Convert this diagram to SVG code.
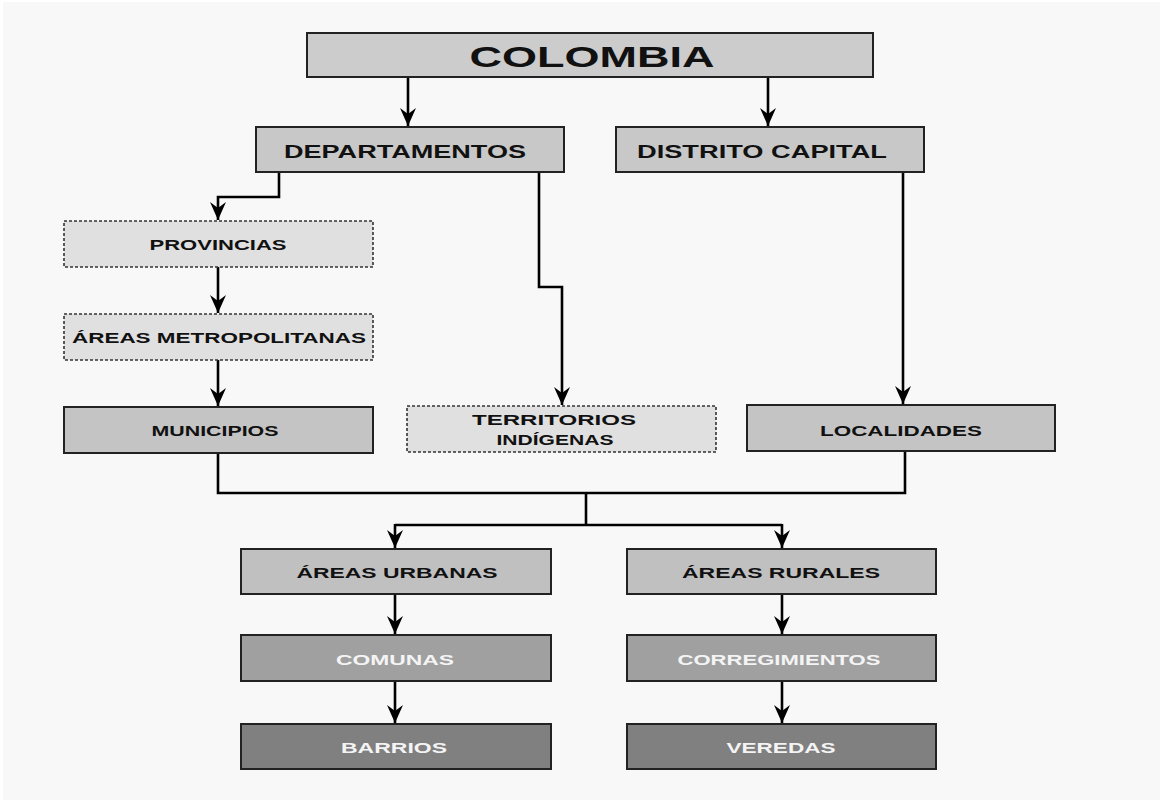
<svg xmlns="http://www.w3.org/2000/svg" width="1163" height="804" viewBox="0 0 1163 804">
<style>
.box{stroke:#222;stroke-width:2}
.dash{stroke:#333;stroke-width:1.6;stroke-dasharray:3 2;fill:#e0e0e0}
.t{font-family:"Liberation Sans",Arial,sans-serif;font-weight:bold;font-size:15px;text-anchor:middle;fill:#111}
.w{fill:#f4f4f4}
.c{fill:none;stroke:#000;stroke-width:2.6}
</style>
<defs>
<marker id="ah" markerUnits="userSpaceOnUse" markerWidth="20" markerHeight="18" refX="18" refY="8" orient="auto">
<path d="M0,0 L18,8 L0,16 L6,8 z" fill="#000"/>
</marker>
</defs>
<rect x="0" y="0" width="1163" height="804" fill="#ffffff"/>
<rect x="3" y="2" width="1157" height="798" fill="#f8f8f8"/>

<g id="connectors">
<path class="c" d="M408,77 V126" marker-end="url(#ah)"/>
<path class="c" d="M768,77 V126" marker-end="url(#ah)"/>
<path class="c" d="M279,172 V197 H218 V220" marker-end="url(#ah)"/>
<path class="c" d="M218,267 V313" marker-end="url(#ah)"/>
<path class="c" d="M218,360 V406" marker-end="url(#ah)"/>
<path class="c" d="M539,172 V287 H562 V405" marker-end="url(#ah)"/>
<path class="c" d="M903,172 V404" marker-end="url(#ah)"/>
<path class="c" d="M218,453 V493 H905 V451"/>
<path class="c" d="M586,493 V525"/>
<path class="c" d="M395,525 H782"/>
<path class="c" d="M395,524 V548" marker-end="url(#ah)"/>
<path class="c" d="M782,524 V548" marker-end="url(#ah)"/>
<path class="c" d="M395,594 V634" marker-end="url(#ah)"/>
<path class="c" d="M782,594 V634" marker-end="url(#ah)"/>
<path class="c" d="M395,681 V723" marker-end="url(#ah)"/>
<path class="c" d="M782,681 V723" marker-end="url(#ah)"/>
</g>

<g id="colombia">
<rect class="box" x="307" y="33" width="566" height="44" fill="#cccccc"/>
<text class="t" x="592" y="67" style="font-size:30px" textLength="245" lengthAdjust="spacingAndGlyphs">COLOMBIA</text>
</g>
<g id="departamentos">
<rect class="box" x="256" y="127" width="308" height="45" fill="#c8c8c8"/>
<text class="t" x="405" y="158" style="font-size:18px" textLength="242" lengthAdjust="spacingAndGlyphs">DEPARTAMENTOS</text>
</g>
<g id="distrito">
<rect class="box" x="616" y="127" width="308" height="45" fill="#c8c8c8"/>
<text class="t" x="762" y="158" style="font-size:18px" textLength="250" lengthAdjust="spacingAndGlyphs">DISTRITO CAPITAL</text>
</g>
<g id="provincias">
<rect class="dash" x="64" y="221" width="309" height="46"/>
<text class="t" x="218" y="250" textLength="137" lengthAdjust="spacingAndGlyphs">PROVINCIAS</text>
</g>
<g id="metropolitanas">
<rect class="dash" x="64" y="314" width="309" height="46"/>
<text class="t" x="219" y="343" textLength="294" lengthAdjust="spacingAndGlyphs">ÁREAS METROPOLITANAS</text>
</g>
<g id="municipios">
<rect class="box" x="64" y="407" width="309" height="46" fill="#c4c4c4"/>
<text class="t" x="215" y="436" textLength="127" lengthAdjust="spacingAndGlyphs">MUNICIPIOS</text>
</g>
<g id="territorios">
<rect class="dash" x="407" y="406" width="309" height="46"/>
<text class="t" x="554" y="425" textLength="164" lengthAdjust="spacingAndGlyphs">TERRITORIOS</text>
<text class="t" x="555" y="445" textLength="117" lengthAdjust="spacingAndGlyphs">INDÍGENAS</text>
</g>
<g id="localidades">
<rect class="box" x="747" y="405" width="308" height="46" fill="#c4c4c4"/>
<text class="t" x="901" y="436" textLength="162" lengthAdjust="spacingAndGlyphs">LOCALIDADES</text>
</g>
<g id="urbanas">
<rect class="box" x="241" y="549" width="310" height="45" fill="#c0c0c0"/>
<text class="t" x="397" y="578" textLength="201" lengthAdjust="spacingAndGlyphs">ÁREAS URBANAS</text>
</g>
<g id="rurales">
<rect class="box" x="627" y="549" width="309" height="45" fill="#c0c0c0"/>
<text class="t" x="781" y="578" textLength="198" lengthAdjust="spacingAndGlyphs">ÁREAS RURALES</text>
</g>
<g id="comunas">
<rect class="box" x="241" y="635" width="310" height="46" fill="#a0a0a0"/>
<text class="t w" x="395" y="665" textLength="118" lengthAdjust="spacingAndGlyphs">COMUNAS</text>
</g>
<g id="corregimientos">
<rect class="box" x="627" y="635" width="309" height="46" fill="#a0a0a0"/>
<text class="t w" x="779" y="665" textLength="203" lengthAdjust="spacingAndGlyphs">CORREGIMIENTOS</text>
</g>
<g id="barrios">
<rect class="box" x="241" y="724" width="310" height="45" fill="#808080"/>
<text class="t w" x="394" y="753" textLength="106" lengthAdjust="spacingAndGlyphs">BARRIOS</text>
</g>
<g id="veredas">
<rect class="box" x="627" y="724" width="309" height="45" fill="#808080"/>
<text class="t w" x="781" y="753" textLength="109" lengthAdjust="spacingAndGlyphs">VEREDAS</text>
</g>
</svg>
